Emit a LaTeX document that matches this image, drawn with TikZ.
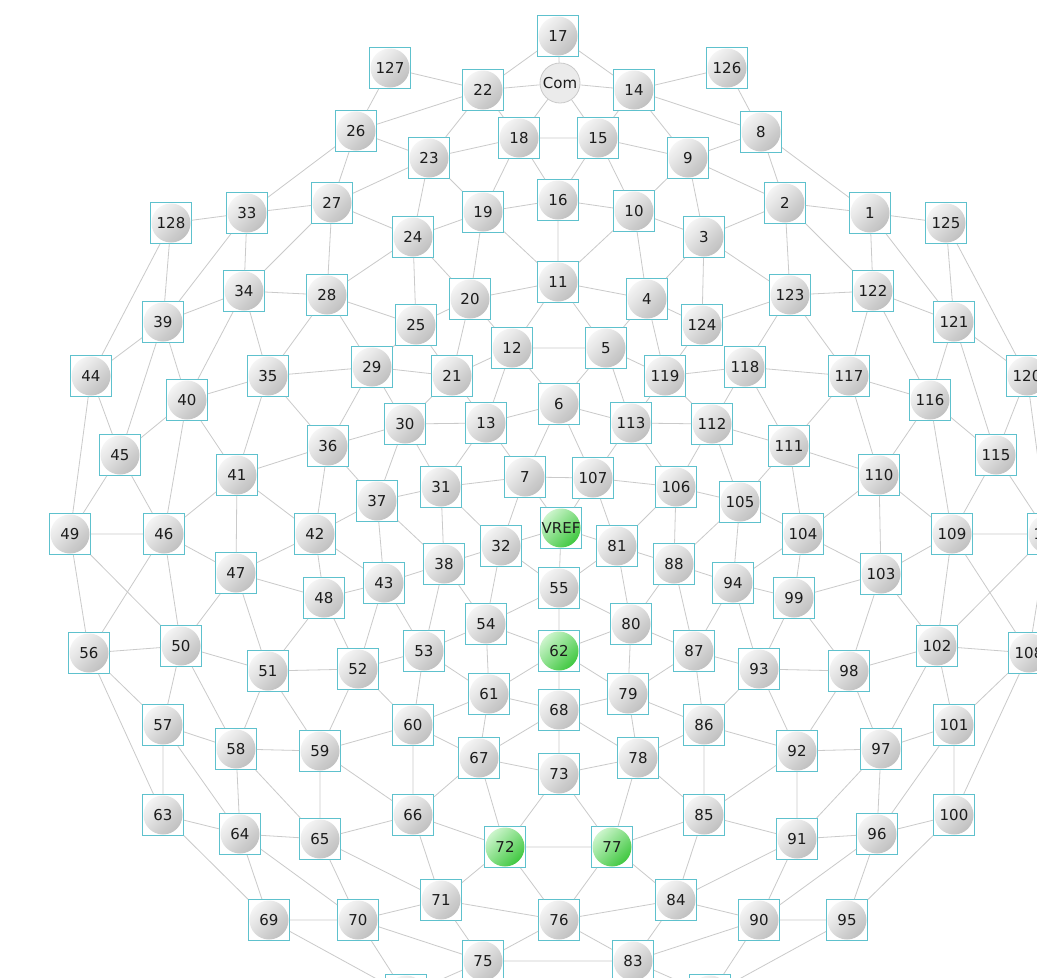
\documentclass[tikz,border=0pt]{standalone}
\usepackage{fontspec}
\usepackage{xcolor}
\newfontfamily\labelfont{DejaVu Sans}
\definecolor{boxcyan}{HTML}{5EC1CD}
\definecolor{wiregray}{HTML}{CACACA}
\definecolor{ballhi}{HTML}{F6F6F6}
\definecolor{balllo}{HTML}{BEBEBE}
\definecolor{greenhi}{HTML}{CFF6CF}
\definecolor{greenlo}{HTML}{3CC63C}
\definecolor{labeltext}{HTML}{1C1C1C}
\tikzset{
  elec/.style={draw=boxcyan, line width=0.9pt, minimum size=41pt, inner sep=0pt, text=labeltext,
    font=\labelfont\fontsize{15}{18}\selectfont,
    path picture={\shade[top color=ballhi, bottom color=balllo, shading angle=45] (path picture bounding box.center) circle (19.5pt);}},
  refel/.style={elec,
    path picture={\shade[top color=greenhi, bottom color=greenlo, shading angle=45] (path picture bounding box.center) circle (19.5pt);}},
  comel/.style={circle, draw=wiregray, fill=gray!16, line width=0.8pt, minimum size=40pt, inner sep=0pt, text=labeltext,
    font=\labelfont\fontsize{15}{18}\selectfont},
  wire/.style={draw=wiregray, line width=0.8pt}
}
\begin{document}
\begin{tikzpicture}[x=1pt, y=-1pt]
\useasboundingbox (0,0) rectangle (1037,978);
\fill[white] (0,0) rectangle (1037,978);
\clip (0,0) rectangle (1037,978);
\node[elec] (n17) at (558,36) {17};
\node[comel] (ncom) at (560,83) {Com};
\node[elec] (n127) at (390,68) {127};
\node[elec] (n22) at (483,90) {22};
\node[elec] (n14) at (634,90) {14};
\node[elec] (n126) at (727,68) {126};
\node[elec] (n26) at (356,131) {26};
\node[elec] (n23) at (429,158) {23};
\node[elec] (n18) at (519,138) {18};
\node[elec] (n15) at (598,138) {15};
\node[elec] (n9) at (688,158) {9};
\node[elec] (n8) at (761,132) {8};
\node[elec] (n16) at (558,200) {16};
\node[elec] (n10) at (634,211) {10};
\node[elec] (n19) at (483,212) {19};
\node[elec] (n27) at (332,203) {27};
\node[elec] (n33) at (247,213) {33};
\node[elec] (n128) at (171,223) {128};
\node[elec] (n24) at (413,237) {24};
\node[elec] (n3) at (704,237) {3};
\node[elec] (n2) at (785,203) {2};
\node[elec] (n1) at (870,213) {1};
\node[elec] (n125) at (946,223) {125};
\node[elec] (n34) at (244,291) {34};
\node[elec] (n39) at (163,322) {39};
\node[elec] (n28) at (327,295) {28};
\node[elec] (n11) at (558,282) {11};
\node[elec] (n4) at (647,299) {4};
\node[elec] (n20) at (470,299) {20};
\node[elec] (n25) at (416,325) {25};
\node[elec] (n124) at (702,325) {124};
\node[elec] (n123) at (790,295) {123};
\node[elec] (n122) at (873,291) {122};
\node[elec] (n121) at (954,322) {121};
\node[elec] (n120) at (1027,376) {120};
\node[elec] (n44) at (91,376) {44};
\node[elec] (n35) at (268,376) {35};
\node[elec] (n29) at (372,367) {29};
\node[elec] (n21) at (452,376) {21};
\node[elec] (n12) at (512,348) {12};
\node[elec] (n5) at (606,348) {5};
\node[elec] (n119) at (665,376) {119};
\node[elec] (n118) at (745,367) {118};
\node[elec] (n117) at (849,376) {117};
\node[elec] (n116) at (930,400) {116};
\node[elec] (n40) at (187,400) {40};
\node[elec] (n6) at (559,404) {6};
\node[elec] (n113) at (631,423) {113};
\node[elec] (n112) at (712,424) {112};
\node[elec] (n13) at (486,423) {13};
\node[elec] (n30) at (405,424) {30};
\node[elec] (n36) at (328,446) {36};
\node[elec] (n111) at (789,446) {111};
\node[elec] (n45) at (120,455) {45};
\node[elec] (n115) at (996,455) {115};
\node[elec] (n41) at (237,475) {41};
\node[elec] (n110) at (879,475) {110};
\node[elec] (n7) at (525,477) {7};
\node[elec] (n107) at (593,478) {107};
\node[elec] (n31) at (441,487) {31};
\node[elec] (n106) at (676,487) {106};
\node[elec] (n37) at (377,501) {37};
\node[elec] (n105) at (740,502) {105};
\node[elec] (n49) at (70,534) {49};
\node[elec] (n46) at (164,534) {46};
\node[refel] (nvref) at (561,528) {VREF};
\node[elec] (n81) at (617,546) {81};
\node[elec] (n32) at (501,546) {32};
\node[elec] (n42) at (315,534) {42};
\node[elec] (n104) at (803,534) {104};
\node[elec] (n109) at (952,534) {109};
\node[elec] (n114) at (1048,534) {114};
\node[elec] (n47) at (236,573) {47};
\node[elec] (n88) at (674,564) {88};
\node[elec] (n38) at (444,564) {38};
\node[elec] (n103) at (881,574) {103};
\node[elec] (n43) at (384,583) {43};
\node[elec] (n94) at (733,583) {94};
\node[elec] (n55) at (559,588) {55};
\node[elec] (n48) at (324,598) {48};
\node[elec] (n99) at (794,598) {99};
\node[elec] (n54) at (486,624) {54};
\node[elec] (n80) at (631,624) {80};
\node[refel] (n62) at (559,651) {62};
\node[elec] (n50) at (181,646) {50};
\node[elec] (n56) at (89,653) {56};
\node[elec] (n102) at (937,646) {102};
\node[elec] (n108) at (1029,653) {108};
\node[elec] (n87) at (694,651) {87};
\node[elec] (n53) at (424,651) {53};
\node[elec] (n52) at (358,669) {52};
\node[elec] (n51) at (268,671) {51};
\node[elec] (n93) at (759,669) {93};
\node[elec] (n98) at (849,671) {98};
\node[elec] (n61) at (489,694) {61};
\node[elec] (n79) at (628,694) {79};
\node[elec] (n68) at (559,710) {68};
\node[elec] (n57) at (163,725) {57};
\node[elec] (n101) at (954,725) {101};
\node[elec] (n60) at (413,725) {60};
\node[elec] (n86) at (704,725) {86};
\node[elec] (n58) at (236,749) {58};
\node[elec] (n59) at (320,751) {59};
\node[elec] (n92) at (797,751) {92};
\node[elec] (n97) at (881,749) {97};
\node[elec] (n67) at (479,758) {67};
\node[elec] (n78) at (638,758) {78};
\node[elec] (n73) at (559,774) {73};
\node[elec] (n63) at (163,815) {63};
\node[elec] (n100) at (954,815) {100};
\node[elec] (n66) at (413,815) {66};
\node[elec] (n85) at (704,815) {85};
\node[elec] (n64) at (240,834) {64};
\node[elec] (n65) at (320,839) {65};
\node[elec] (n91) at (797,839) {91};
\node[elec] (n96) at (877,834) {96};
\node[refel] (n72) at (505,847) {72};
\node[refel] (n77) at (612,847) {77};
\node[elec] (n71) at (441,900) {71};
\node[elec] (n84) at (676,900) {84};
\node[elec] (n69) at (269,920) {69};
\node[elec] (n70) at (358,920) {70};
\node[elec] (n76) at (559,920) {76};
\node[elec] (n90) at (759,920) {90};
\node[elec] (n95) at (847,920) {95};
\node[elec] (n75) at (483,961) {75};
\node[elec] (n83) at (633,961) {83};
\node[elec] (n74) at (406,995) {74};
\node[elec] (n82) at (710,995) {82};
\draw[wire] (n17)--(ncom) (n17)--(n22) (n17)--(n14) (ncom)--(n22) (ncom)--(n14) (ncom)--(n18) (ncom)--(n15);
\draw[wire] (n127)--(n22) (n127)--(n26) (n22)--(n26) (n22)--(n23) (n22)--(n18) (n26)--(n23) (n26)--(n27) (n26)--(n33);
\draw[wire] (n23)--(n18) (n23)--(n27) (n23)--(n19) (n23)--(n24) (n18)--(n15) (n18)--(n19) (n18)--(n16);
\draw[wire] (n15)--(n16) (n15)--(n9) (n15)--(n10) (n15)--(n14) (n14)--(n126) (n14)--(n8) (n14)--(n9) (n126)--(n8);
\draw[wire] (n8)--(n9) (n8)--(n2) (n8)--(n1) (n9)--(n2) (n9)--(n10) (n9)--(n3);
\draw[wire] (n2)--(n1) (n2)--(n3) (n2)--(n123) (n2)--(n122) (n1)--(n125) (n1)--(n122) (n1)--(n121) (n125)--(n121) (n125)--(n120);
\draw[wire] (n122)--(n123) (n122)--(n121) (n122)--(n117) (n122)--(n116) (n123)--(n118) (n123)--(n124) (n123)--(n3) (n123)--(n117);
\draw[wire] (n3)--(n124) (n3)--(n4) (n3)--(n10) (n10)--(n16) (n10)--(n11) (n10)--(n4) (n16)--(n11) (n16)--(n19);
\draw[wire] (n19)--(n24) (n19)--(n20) (n19)--(n11) (n24)--(n27) (n24)--(n28) (n24)--(n25) (n24)--(n20);
\draw[wire] (n27)--(n33) (n27)--(n28) (n27)--(n34) (n33)--(n128) (n33)--(n34) (n33)--(n39) (n128)--(n39) (n128)--(n44);
\draw[wire] (n34)--(n39) (n34)--(n28) (n34)--(n40) (n34)--(n35) (n28)--(n35) (n28)--(n29) (n28)--(n25);
\draw[wire] (n20)--(n25) (n20)--(n11) (n20)--(n21) (n20)--(n12) (n11)--(n4) (n11)--(n12) (n11)--(n5);
\draw[wire] (n4)--(n5) (n4)--(n124) (n4)--(n119) (n124)--(n119) (n121)--(n116) (n121)--(n115) (n121)--(n120) (n120)--(n115) (n120)--(n114);
\draw[wire] (n44)--(n39) (n44)--(n45) (n44)--(n49) (n39)--(n45) (n39)--(n40) (n40)--(n35) (n40)--(n45) (n40)--(n46) (n40)--(n41);
\draw[wire] (n35)--(n41) (n35)--(n29) (n35)--(n36) (n29)--(n25) (n29)--(n21) (n29)--(n36) (n29)--(n30) (n25)--(n21);
\draw[wire] (n21)--(n12) (n21)--(n13) (n21)--(n30) (n12)--(n13) (n12)--(n5) (n12)--(n6) (n5)--(n6) (n5)--(n113) (n5)--(n119);
\draw[wire] (n119)--(n118) (n119)--(n113) (n119)--(n112) (n118)--(n112) (n118)--(n117) (n118)--(n111);
\draw[wire] (n117)--(n111) (n117)--(n116) (n117)--(n110) (n116)--(n110) (n116)--(n109) (n116)--(n115) (n115)--(n109) (n115)--(n114);
\draw[wire] (n112)--(n111) (n112)--(n113) (n112)--(n106) (n112)--(n105) (n111)--(n110) (n111)--(n104) (n111)--(n105);
\draw[wire] (n110)--(n104) (n110)--(n103) (n110)--(n109) (n109)--(n114) (n109)--(n103) (n109)--(n102) (n109)--(n108) (n114)--(n102) (n114)--(n108);
\draw[wire] (n105)--(n104) (n104)--(n94) (n104)--(n99) (n104)--(n103) (n103)--(n99) (n103)--(n102) (n103)--(n98);
\draw[wire] (n102)--(n98) (n102)--(n108) (n102)--(n101) (n102)--(n97) (n108)--(n101) (n108)--(n100);
\draw[wire] (n101)--(n97) (n101)--(n96) (n101)--(n100) (n100)--(n96) (n100)--(n95);
\draw[wire] (n99)--(n94) (n99)--(n98) (n99)--(n93) (n98)--(n93) (n98)--(n92) (n98)--(n97) (n97)--(n92) (n97)--(n96) (n97)--(n91);
\draw[wire] (n96)--(n91) (n96)--(n95) (n96)--(n90) (n92)--(n93) (n92)--(n91) (n92)--(n85) (n92)--(n86);
\draw[wire] (n91)--(n90) (n91)--(n84) (n91)--(n85) (n95)--(n90) (n95)--(n82) (n90)--(n84) (n90)--(n83) (n90)--(n82);
\draw[wire] (n93)--(n87) (n93)--(n86) (n94)--(n87) (n94)--(n93) (n94)--(n88) (n94)--(n105);
\draw[wire] (n88)--(n106) (n88)--(n105) (n88)--(n81) (n88)--(n80) (n88)--(n87);
\draw[wire] (n106)--(n107) (n106)--(n113) (n106)--(n105) (n106)--(n81) (n113)--(n107) (n113)--(n6);
\draw[wire] (n6)--(n7) (n6)--(n107) (n6)--(n13) (n7)--(n107) (n7)--(nvref) (n107)--(nvref) (n107)--(n81);
\draw[wire] (nvref)--(n81) (nvref)--(n55) (nvref)--(n32) (n81)--(n55) (n81)--(n80);
\draw[wire] (n55)--(n32) (n55)--(n54) (n55)--(n62) (n55)--(n80) (n62)--(n80) (n62)--(n54) (n62)--(n61) (n62)--(n79) (n62)--(n68);
\draw[wire] (n80)--(n79) (n80)--(n87) (n87)--(n79) (n87)--(n86) (n79)--(n68) (n79)--(n86) (n79)--(n78);
\draw[wire] (n68)--(n61) (n68)--(n67) (n68)--(n73) (n68)--(n78) (n86)--(n78) (n86)--(n85);
\draw[wire] (n78)--(n73) (n78)--(n77) (n78)--(n85) (n73)--(n67) (n73)--(n72) (n73)--(n77);
\draw[wire] (n72)--(n77) (n72)--(n76) (n72)--(n71) (n72)--(n66) (n72)--(n67) (n77)--(n76) (n77)--(n84) (n77)--(n85);
\draw[wire] (n76)--(n84) (n76)--(n83) (n76)--(n71) (n76)--(n75) (n84)--(n83) (n85)--(n84) (n83)--(n75) (n83)--(n82);
\draw[wire] (n67)--(n61) (n67)--(n60) (n67)--(n66) (n61)--(n53) (n61)--(n60) (n61)--(n54);
\draw[wire] (n60)--(n52) (n60)--(n59) (n60)--(n53) (n60)--(n66) (n66)--(n59) (n66)--(n65) (n66)--(n71);
\draw[wire] (n71)--(n65) (n71)--(n70) (n71)--(n75) (n70)--(n65) (n70)--(n69) (n70)--(n75) (n70)--(n74) (n69)--(n74) (n75)--(n74);
\draw[wire] (n65)--(n59) (n65)--(n64) (n65)--(n58) (n64)--(n70) (n59)--(n58) (n59)--(n51) (n59)--(n52);
\draw[wire] (n52)--(n51) (n52)--(n53) (n52)--(n43) (n52)--(n48) (n53)--(n54) (n53)--(n43) (n53)--(n38) (n54)--(n38) (n54)--(n32);
\draw[wire] (n38)--(n43) (n38)--(n32) (n38)--(n31) (n38)--(n37) (n32)--(n31) (n32)--(n7);
\draw[wire] (n31)--(n7) (n31)--(n37) (n31)--(n30) (n31)--(n13) (n13)--(n30) (n13)--(n7) (n30)--(n37) (n30)--(n36);
\draw[wire] (n36)--(n37) (n36)--(n42) (n36)--(n41) (n37)--(n42) (n37)--(n43);
\draw[wire] (n42)--(n43) (n42)--(n48) (n42)--(n41) (n42)--(n47) (n48)--(n43) (n48)--(n47) (n48)--(n51);
\draw[wire] (n47)--(n41) (n47)--(n46) (n47)--(n50) (n47)--(n51) (n46)--(n41) (n46)--(n45) (n46)--(n49) (n46)--(n50) (n46)--(n56);
\draw[wire] (n45)--(n49) (n49)--(n56) (n49)--(n50) (n56)--(n50) (n56)--(n57) (n56)--(n63);
\draw[wire] (n50)--(n51) (n50)--(n57) (n50)--(n58) (n51)--(n58) (n57)--(n58) (n57)--(n63) (n57)--(n64);
\draw[wire] (n58)--(n64) (n63)--(n64) (n63)--(n69) (n64)--(n69);
\end{tikzpicture}
\end{document}
